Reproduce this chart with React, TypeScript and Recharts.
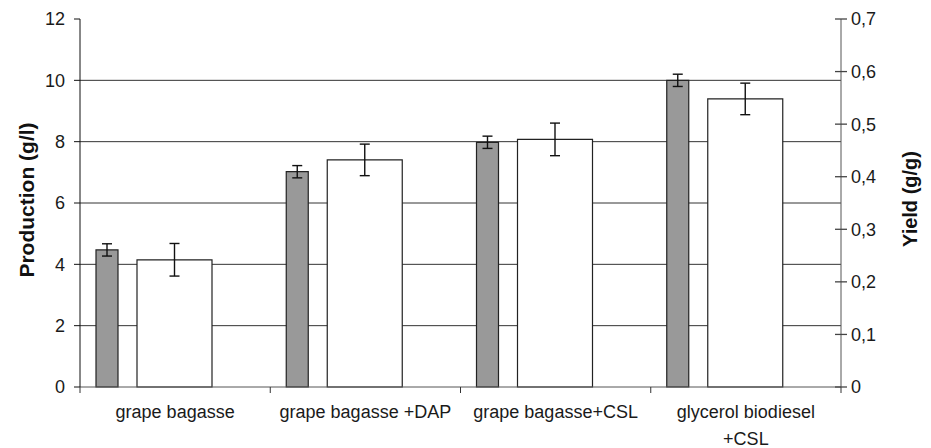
import { ComposedChart, Bar, XAxis, YAxis, CartesianGrid, ErrorBar } from "recharts";

const categories = [
  "grape bagasse",
  "grape bagasse +DAP",
  "grape bagasse+CSL",
  "glycerol biodiesel\n+CSL",
];
const production = [4.47, 7.02, 7.98, 10.0];
const productionErr = [0.2, 0.2, 0.2, 0.2];
const yieldValues = [0.242, 0.432, 0.471, 0.548];
const yieldErr = [0.031, 0.03, 0.031, 0.03];
const leftTicks = [0, 2, 4, 6, 8, 10, 12];
const rightTicks = [0, 0.1, 0.2, 0.3, 0.4, 0.5, 0.6, 0.7];

const FONT = '"Liberation Sans", Arial, sans-serif';

const data = categories.map((name, i) => ({
  name,
  production: production[i],
  productionErr: productionErr[i],
  yield: yieldValues[i],
  yieldErr: yieldErr[i],
}));

const formatYield = (v: number) => (v === 0 ? "0" : v.toFixed(1).replace(".", ","));

function CategoryTick(props: any) {
  const { x, y, payload, index, visibleTicksCount, width } = props;
  const band = width && visibleTicksCount ? width / visibleTicksCount : 190;
  const half = band / 2;
  const lines = String(payload.value).split("\n");
  return (
    <g>
      <line x1={x - half} x2={x - half} y1={y} y2={y + 6} stroke="#333" />
      {index === visibleTicksCount - 1 && (
        <line x1={x + half} x2={x + half} y1={y} y2={y + 6} stroke="#333" />
      )}
      {lines.map((l, i) => (
        <text
          key={i}
          x={x}
          y={y + 31 + i * 27}
          textAnchor="middle"
          fontSize={18}
          fontFamily={FONT}
          fill="#1a1a1a"
        >
          {l}
        </text>
      ))}
    </g>
  );
}

function YieldTick(props: any) {
  const { x, y, payload } = props;
  const tx = Number(x);
  const ty = Number(y);
  const axisX = tx - 10;
  return (
    <g>
      <path
        d={`M${axisX - 6},${ty}H${axisX + 6}`}
        stroke="#444"
        strokeWidth={1.3}
        fill="none"
      />
      <text x={tx} y={ty} dy="0.355em" textAnchor="start" fontSize={18} fontFamily={FONT} fill="#1a1a1a">
        {formatYield(payload.value)}
      </text>
    </g>
  );
}

export default function App() {
  return (
    <div style={{ position: "absolute", left: 0, top: 0, background: "#fff" }}>
      <ComposedChart
        width={931}
        height={448}
        data={data}
        barGap={19}
        margin={{ top: 19, right: 0, bottom: 0, left: 0 }}
      >
        <CartesianGrid
          yAxisId="left"
          vertical={false}
          horizontalValues={[2, 4, 6, 8, 10]}
          stroke="#333"
          strokeWidth={1}
        />
        <XAxis
          dataKey="name"
          height={61}
          interval={0}
          tickLine={false}
          tickSize={0}
          tickMargin={0}
          tick={<CategoryTick />}
          axisLine={{ stroke: "#555" }}
        />
        <YAxis
          yAxisId="left"
          orientation="left"
          width={80}
          domain={[0, 12]}
          ticks={leftTicks}
          interval={0}
          tickSize={6}
          tickMargin={9}
          axisLine={{ stroke: "#111" }}
          tickLine={{ stroke: "#111" }}
          tick={{ fontSize: 18, fontFamily: FONT, fill: "#1a1a1a" }}
          label={{
            content: ({ viewBox }: any) => {
              const cx = (viewBox?.x ?? 0) + 26;
              const cy = 200;
              return (
                <text
                  x={cx}
                  y={cy}
                  transform={`rotate(-90 ${cx} ${cy})`}
                  textAnchor="middle"
                  dominantBaseline="central"
                  fontSize={21}
                  fontWeight="bold"
                  fontFamily={FONT}
                  fill="#111"
                >
                  Production (g/l)
                </text>
              );
            },
          }}
        />
        <YAxis
          yAxisId="right"
          orientation="right"
          width={90}
          domain={[0, 0.7]}
          ticks={rightTicks}
          interval={0}
          tickSize={6}
          tickMargin={4}
          tickLine={false}
          axisLine={{ stroke: "#555" }}
          tick={<YieldTick />}
          label={{
            content: ({ viewBox }: any) => {
              const cx = (viewBox?.x ?? 841) + 69;
              const cy = 199;
              return (
                <text
                  x={cx}
                  y={cy}
                  transform={`rotate(-90 ${cx} ${cy})`}
                  textAnchor="middle"
                  dominantBaseline="central"
                  fontSize={20}
                  fontWeight="bold"
                  fontFamily={FONT}
                  fill="#111"
                >
                  Yield (g/g)
                </text>
              );
            },
          }}
        />
        <Bar
          yAxisId="left"
          dataKey="production"
          barSize={22}
          fill="#999999"
          stroke="#222"
          strokeWidth={1.2}
          isAnimationActive={false}
        >
          <ErrorBar
            dataKey="productionErr"
            direction="y"
            width={5}
            stroke="#111"
            strokeWidth={1.4}
            isAnimationActive={false}
          />
        </Bar>
        <Bar
          yAxisId="right"
          dataKey="yield"
          barSize={75}
          fill="#ffffff"
          stroke="#222"
          strokeWidth={1.2}
          isAnimationActive={false}
        >
          <ErrorBar
            dataKey="yieldErr"
            direction="y"
            width={5}
            stroke="#111"
            strokeWidth={1.4}
            isAnimationActive={false}
          />
        </Bar>
        <Bar
          yAxisId="left"
          dataKey="spacer"
          barSize={23}
          fill="none"
          stroke="none"
          isAnimationActive={false}
        />
      </ComposedChart>
    </div>
  );
}
